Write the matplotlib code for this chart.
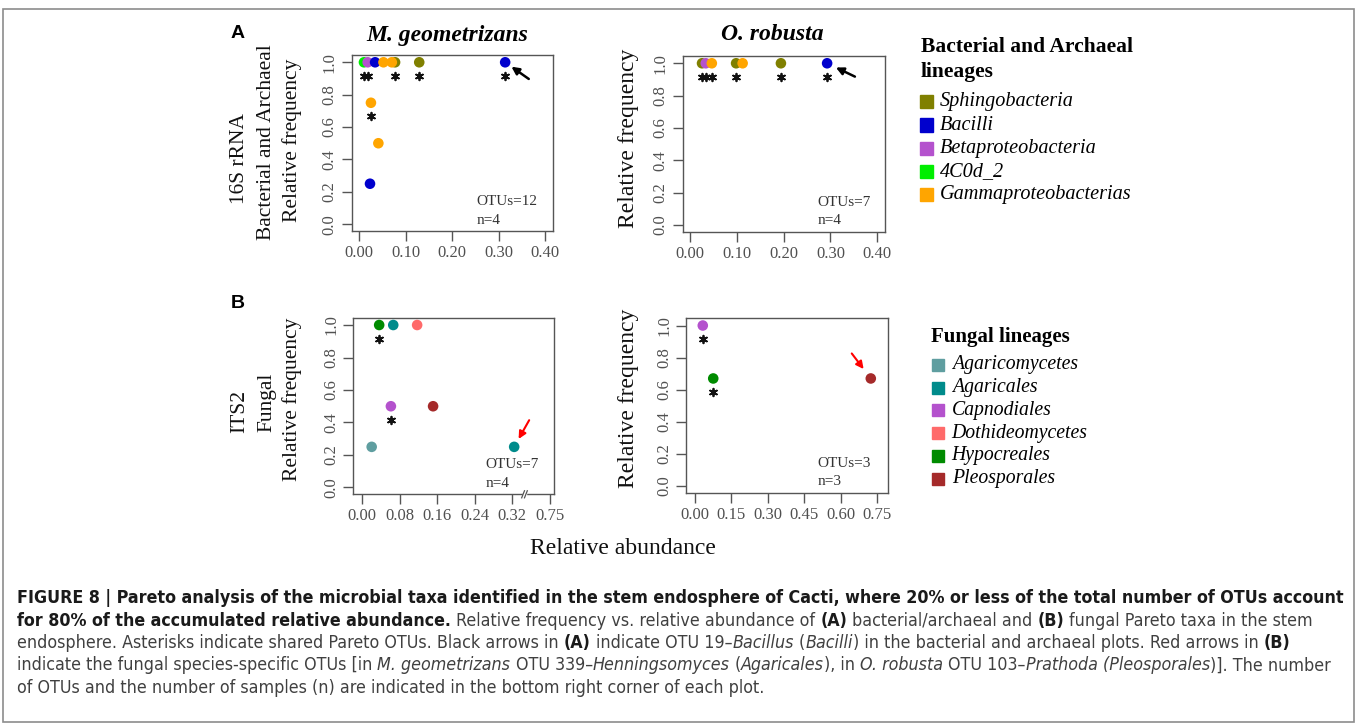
import matplotlib
matplotlib.use('Agg')
import matplotlib.pyplot as plt
from matplotlib.patches import Rectangle
from matplotlib import transforms, font_manager

# ---- data ----
bac_lineages = ['Sphingobacteria', 'Bacilli', 'Betaproteobacteria', '4C0d_2', 'Gammaproteobacterias']
bac_colors = ['#808000', '#0000CD', '#B452CD', '#00EE00', '#FFA500']

fun_lineages = ['Agaricomycetes', 'Agaricales', 'Capnodiales', 'Dothideomycetes', 'Hypocreales', 'Pleosporales']
fun_colors = ['#5F9EA0', '#008B8B', '#B452CD', '#FF6A6A', '#008B00', '#A52A2A']

# M. geometrizans, 16S rRNA
mg16_abund = [0.010, 0.018, 0.034, 0.077, 0.052, 0.070, 0.129, 0.314, 0.025, 0.041, 0.023]
mg16_freq = [1.0, 1.0, 1.0, 1.0, 1.0, 1.0, 1.0, 1.0, 0.75, 0.50, 0.25]
mg16_taxa = ['4C0d_2', 'Betaproteobacteria', 'Bacilli', 'Sphingobacteria', 'Gammaproteobacterias',
             'Gammaproteobacterias', 'Sphingobacteria', 'Bacilli', 'Gammaproteobacterias',
             'Gammaproteobacterias', 'Bacilli']
mg16_shared = [1, 1, 0, 1, 0, 0, 1, 1, 1, 0, 0]

# O. robusta, 16S rRNA
or16_abund = [0.025, 0.033, 0.046, 0.098, 0.112, 0.194, 0.293]
or16_freq = [1.0, 1.0, 1.0, 1.0, 1.0, 1.0, 1.0]
or16_taxa = ['Sphingobacteria', 'Betaproteobacteria', 'Gammaproteobacterias', 'Sphingobacteria',
             'Gammaproteobacterias', 'Sphingobacteria', 'Bacilli']
or16_shared = [1, 1, 1, 1, 0, 1, 1]

# M. geometrizans, ITS2
mgits_abund = [0.036, 0.066, 0.117, 0.061, 0.151, 0.020, 0.324]
mgits_freq = [1.0, 1.0, 1.0, 0.5, 0.5, 0.25, 0.25]
mgits_taxa = ['Hypocreales', 'Agaricales', 'Dothideomycetes', 'Capnodiales', 'Pleosporales',
              'Agaricomycetes', 'Agaricales']
mgits_shared = [1, 0, 0, 1, 0, 0, 0]

# O. robusta, ITS2
orits_abund = [0.032, 0.075, 0.723]
orits_freq = [1.0, 0.67, 0.67]
orits_taxa = ['Capnodiales', 'Hypocreales', 'Pleosporales']
orits_shared = [1, 1, 0]

yticks = [0.0, 0.2, 0.4, 0.6, 0.8, 1.0]
bac_xticks = [0.0, 0.1, 0.2, 0.3, 0.4]
mgits_xticks = [0.0, 0.08, 0.16, 0.24, 0.32, 0.40]
mgits_xlabels = ['0.00', '0.08', '0.16', '0.24', '0.32', '0.75']
orits_xticks = [0.0, 0.15, 0.30, 0.45, 0.60, 0.75]

W, H = 1357, 726
serif = ['Liberation Serif', 'DejaVu Serif']
fig = plt.figure(figsize=(W / 100, H / 100), dpi=100)

def px_axes(l, t, r, b):
    return fig.add_axes([l / W, 1 - b / H, (r - l) / W, (b - t) / H])

def ftext(x, y, s, **kw):
    kw.setdefault('family', serif)
    return fig.text(x / W, 1 - y / H, s, **kw)

def panel(ax, xs, ys, taxa, shared, names, cols, xlim, xticks, xlabels):
    cmap = dict(zip(names, cols))
    ax.scatter(xs, ys, s=58, c=[cmap[t] for t in taxa], zorder=3, linewidths=0)
    star_tr = transforms.offset_copy(ax.transData, fig=fig, y=-13.5, units='dots')
    sx = [x for x, f in zip(xs, shared) if f]
    sy = [y for y, f in zip(ys, shared) if f]
    ax.scatter(sx, sy, marker=(6, 2, 0), s=30, c='#111111', linewidths=1.3, transform=star_tr, zorder=3)
    ax.set_xlim(*xlim)
    ax.set_ylim(-0.042, 1.045)
    ax.set_xticks(xticks)
    ax.set_xticklabels(xlabels)
    ax.set_yticks(yticks)
    ax.set_yticklabels(['%.1f' % v for v in yticks], rotation=90, va='center')
    for sp in ax.spines.values():
        sp.set_color('#555555')
        sp.set_linewidth(1.0)
    ax.tick_params(direction='out', length=7, width=1.0, color='#555555',
                   labelcolor='#505050', labelsize=12, pad=3)
    for lab in ax.get_xticklabels() + ax.get_yticklabels():
        lab.set_family(serif)

ax1 = px_axes(351.7, 55, 553, 231)
panel(ax1, mg16_abund, mg16_freq, mg16_taxa, mg16_shared, bac_lineages, bac_colors,
      (-0.0164, 0.417), bac_xticks, ['%.2f' % v for v in bac_xticks])
ax2 = px_axes(682.7, 56, 885, 231.7)
panel(ax2, or16_abund, or16_freq, or16_taxa, or16_shared, bac_lineages, bac_colors,
      (-0.0164, 0.417), bac_xticks, ['%.2f' % v for v in bac_xticks])
ax3 = px_axes(353.3, 317.7, 554.3, 494.3)
panel(ax3, mgits_abund, mgits_freq, mgits_taxa, mgits_shared, fun_lineages, fun_colors,
      (-0.0192, 0.4096), mgits_xticks, mgits_xlabels)
ax4 = px_axes(686, 318.3, 888.3, 492.7)
panel(ax4, orits_abund, orits_freq, orits_taxa, orits_shared, fun_lineages, fun_colors,
      (-0.037, 0.795), orits_xticks, ['%.2f' % v for v in orits_xticks])

# axis break marks on the ITS2 M. geometrizans x axis
brk = transforms.blended_transform_factory(ax3.transData, ax3.transAxes)
ax3.add_patch(Rectangle((0.343, -0.02), 0.007, 0.04, transform=brk, color='white', clip_on=False, zorder=5))
for dx in (0.0, 0.006):
    ax3.plot([0.340 + dx, 0.346 + dx], [-0.02, 0.02], transform=brk, color='#555555', lw=0.9,
             clip_on=False, zorder=6)

# arrows
ax1.annotate('', xy=(0.314, 1.0), xytext=(17, -12), textcoords='offset points',
             arrowprops=dict(arrowstyle='-|>', color='black', lw=1.8, mutation_scale=11, shrinkA=0, shrinkB=5.5))
ax2.annotate('', xy=(0.293, 1.0), xytext=(20, -9.6), textcoords='offset points',
             arrowprops=dict(arrowstyle='-|>', color='black', lw=1.8, mutation_scale=11, shrinkA=0, shrinkB=7))
ax3.annotate('', xy=(0.324, 0.25), xytext=(10.8, 19.2), textcoords='offset points',
             arrowprops=dict(arrowstyle='-|>', color='red', lw=1.5, mutation_scale=11, shrinkA=0, shrinkB=6.5))
ax4.annotate('', xy=(0.723, 0.67), xytext=(-13.7, 18), textcoords='offset points',
             arrowprops=dict(arrowstyle='-|>', color='red', lw=1.5, mutation_scale=11, shrinkA=0, shrinkB=8.5))

# OTU / n notes
for ax, x, otu, n in [(ax1, 0.253, 'OTUs=12', 'n=4'), (ax2, 0.273, 'OTUs=7', 'n=4'),
                      (ax3, 0.262, 'OTUs=7', 'n=4'), (ax4, 0.505, 'OTUs=3', 'n=3')]:
    ax.text(x, 0.14, otu, family=serif, fontsize=11, color='#333333', va='center')
    ax.text(x, 0.025, n, family=serif, fontsize=11, color='#333333', va='center')

# titles, panel letters, axis labels
ftext(447, 35, 'M. geometrizans', fontsize=17, fontweight='bold', fontstyle='italic', ha='center', va='center')
ftext(772, 35, 'O. robusta', fontsize=17, fontweight='bold', fontstyle='italic', ha='center', va='center')
ftext(238, 33, 'A', family='Liberation Sans', fontsize=14, fontweight='bold', ha='center', va='center')
ftext(238, 303, 'B', family='Liberation Sans', fontsize=14, fontweight='bold', ha='center', va='center')

ylab = dict(fontsize=15.5, rotation=90, ha='center', va='center', color='#111111')
ylab_r = dict(ylab, fontsize=17)
ftext(240, 159, '16S rRNA', **ylab)
ftext(266.7, 142, 'Bacterial and Archaeal', **ylab)
ftext(291.7, 140, 'Relative frequency', **ylab)
ftext(628.3, 138, 'Relative frequency', **ylab_r)
ftext(240, 411.7, 'ITS2', **ylab)
ftext(266.7, 402, 'Fungal', **ylab)
ftext(291.7, 399, 'Relative frequency', **ylab)
ftext(628.3, 398, 'Relative frequency', **ylab_r)
ftext(530, 549, 'Relative abundance', fontsize=17, ha='left', va='center', color='#111111')

# legends
ftext(920.7, 46.7, 'Bacterial and Archaeal', fontsize=15.5, fontweight='bold', va='center')
ftext(920.7, 71.7, 'lineages', fontsize=15.5, fontweight='bold', va='center')
for i, (name, col) in enumerate(zip(bac_lineages, bac_colors)):
    yc = 101.7 + i * 23.3
    fig.patches.append(Rectangle(((926.7 - 6.5) / W, 1 - (yc + 6.5) / H), 13 / W, 13 / H,
                                 transform=fig.transFigure, color=col, figure=fig))
    ftext(940, yc, name, fontsize=14.6, fontstyle='italic', va='center')

ftext(930.7, 336.7, 'Fungal lineages', fontsize=15, fontweight='bold', va='center')
for i, (name, col) in enumerate(zip(fun_lineages, fun_colors)):
    yc = 365 + i * 22.7
    fig.patches.append(Rectangle(((938.3 - 6) / W, 1 - (yc + 6) / H), 12 / W, 12 / H,
                                 transform=fig.transFigure, color=col, figure=fig))
    ftext(951.7, yc, name, fontsize=14.2, fontstyle='italic', va='center')

# caption (condensed sans if one is installed)
cap_family, cap_stretch = 'Liberation Sans', 'normal'
for f in font_manager.fontManager.ttflist:
    if 'Narrow' in f.name or 'Condensed' in f.name:
        cap_family, cap_stretch = f.name, 'normal'
        break
    if str(f.stretch) in ('condensed', 'semi-condensed', 'extra-condensed') and 'Sans' in f.name:
        cap_family, cap_stretch = f.name, f.stretch
        break
renderer = fig.canvas.get_renderer()

def make(x, yc, s, size, st, color='k'):
    return fig.text(x / W, 1 - yc / H, s, fontsize=size, family=cap_family, stretch=cap_stretch,
                    fontweight='bold' if st == 'b' else 'normal',
                    fontstyle='italic' if st == 'i' else 'normal',
                    color=color, va='center', ha='left')

def line_width(runs, size, draw_y=None):
    sp = make(0, 0, 'a a', size, 'n')
    sp2 = make(0, 0, 'aa', size, 'n')
    space_w = sp.get_window_extent(renderer).width - sp2.get_window_extent(renderer).width
    sp.remove(); sp2.remove()
    x = 17
    for txt, st in runs:
        if txt.startswith(' '):
            x += space_w
        col = '#1a1a1a' if st == 'b' else '#404040'
        t = make(x, draw_y if draw_y else 0, txt.strip(), size, st, col)
        x += t.get_window_extent(renderer).width
        if draw_y is None:
            t.remove()
        if txt.endswith(' '):
            x += space_w
    return x - 17

caption = [
    [('FIGURE 8 | Pareto analysis of the microbial taxa identified in the stem endosphere of Cacti, where 20% or less of the total number of OTUs account', 'b')],
    [('for 80% of the accumulated relative abundance.', 'b'), (' Relative frequency vs. relative abundance of ', 'n'),
     ('(A)', 'b'), (' bacterial/archaeal and ', 'n'), ('(B)', 'b'), (' fungal Pareto taxa in the stem', 'n')],
    [('endosphere. Asterisks indicate shared Pareto OTUs. Black arrows in ', 'n'), ('(A)', 'b'),
     (' indicate OTU 19\u2013', 'n'), ('Bacillus', 'i'), (' (', 'n'), ('Bacilli', 'i'),
     (') in the bacterial and archaeal plots. Red arrows in ', 'n'), ('(B)', 'b')],
    [('indicate the fungal species-specific OTUs [in ', 'n'), ('M. geometrizans', 'i'), (' OTU 339\u2013', 'n'),
     ('Henningsomyces', 'i'), (' (', 'n'), ('Agaricales', 'i'), ('), in ', 'n'), ('O. robusta', 'i'),
     (' OTU 103\u2013', 'n'), ('Prathoda (Pleosporales', 'i'), (')]. The number', 'n')],
    [('of OTUs and the number of samples (n) are indicated in the bottom right corner of each plot.', 'n')],
]
cap_y = [598, 620.5, 643, 665.5, 688]
cap_right = [1340, 1291, 1297, 1340]
fits = sorted(10 * (r - 17) / line_width(runs, 10) for runs, r in zip(caption, cap_right))
cap_size = min(fits[1], fits[2], 10 * 1323 / line_width(caption[0], 10))
for runs, yc in zip(caption, cap_y):
    line_width(runs, cap_size, draw_y=yc)

# outer frame
fig.patches.append(Rectangle((3 / W, 1 - 722 / H), 1351 / W, 713 / H, transform=fig.transFigure,
                             fill=False, edgecolor='#8c8c8c', lw=1.2, figure=fig))

fig.savefig('out.png', dpi=100)
